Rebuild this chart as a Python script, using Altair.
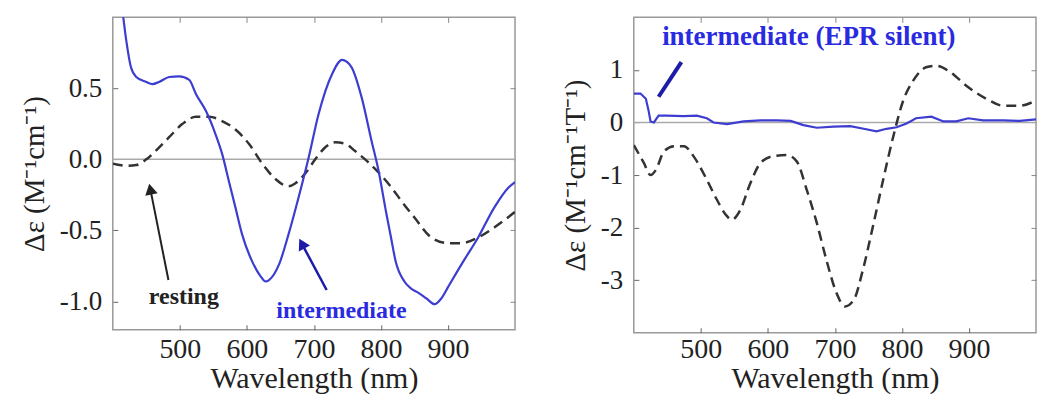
import altair as alt
import pandas as pd

# ---------------- Left panel data ----------------
L_int_wl = [400, 408, 415, 420, 427, 435, 450, 459, 469, 484, 499, 514, 524, 539, 553, 563, 573,
            583, 593, 608, 620, 628, 633, 648, 662, 677, 692, 707, 727, 742, 756, 771, 786, 796,
            808, 815, 822, 835, 845, 856, 868, 880, 890, 900, 924, 945, 969, 990, 1000]
L_int_v = [1.5, 1.2, 1.02, 0.84, 0.65, 0.58, 0.545, 0.53, 0.545, 0.58, 0.585, 0.56, 0.46, 0.34,
           0.18, 0.04, -0.15, -0.34, -0.53, -0.72, -0.82, -0.86, -0.85, -0.74, -0.53, -0.27, 0.01,
           0.32, 0.6, 0.7, 0.65, 0.44, 0.13, -0.07, -0.38, -0.55, -0.72, -0.86, -0.91, -0.94, -0.98,
           -1.02, -0.98, -0.9, -0.71, -0.55, -0.34, -0.2, -0.16]

L_rest_wl = [400, 410, 420, 435, 450, 464, 484, 504, 524, 544, 563, 583, 603, 623, 643, 662, 672,
             687, 702, 717, 732, 747, 761, 781, 796, 816, 830, 850, 875, 900, 920, 945, 969, 1000]
L_rest_v = [-0.03, -0.04, -0.045, -0.04, 0.0, 0.06, 0.156, 0.25, 0.30, 0.30, 0.27, 0.21, 0.11,
            -0.03, -0.14, -0.19, -0.17, -0.10, 0.0, 0.085, 0.12, 0.11, 0.06, -0.02, -0.09, -0.2,
            -0.29, -0.41, -0.55, -0.59, -0.59, -0.55, -0.48, -0.37]

# ---------------- Right panel data ----------------
R_rest_wl = [400, 415, 425, 433, 445, 460, 475, 489, 509, 524, 537, 546, 559, 574, 589, 608, 628,
             643, 658, 673, 687, 702, 715, 728, 742, 757, 772, 787, 802, 817, 836, 851, 872, 896,
             926, 951, 976, 1000]
R_rest_v = [-0.43, -0.77, -1.0, -0.9, -0.55, -0.45, -0.45, -0.64, -1.09, -1.47, -1.75, -1.85,
            -1.66, -1.15, -0.77, -0.64, -0.62, -0.74, -1.28, -1.91, -2.6, -3.23, -3.5, -3.38,
            -2.79, -1.96, -1.09, -0.27, 0.42, 0.8, 1.05, 1.08, 0.96, 0.7, 0.45, 0.32, 0.32, 0.42]

R_int_wl = [400, 410, 418, 422, 425, 430, 437, 449, 474, 494, 509, 519, 539, 564, 589, 613, 634,
            653, 673, 698, 723, 743, 762, 777, 792, 807, 821, 844, 862, 881, 899, 921, 951, 976, 1000]
R_int_v = [0.55, 0.55, 0.45, 0.23, 0.02, 0.0, 0.13, 0.13, 0.12, 0.13, 0.08, 0.0, -0.03, 0.02,
           0.04, 0.04, 0.03, -0.05, -0.1, -0.08, -0.07, -0.12, -0.17, -0.12, -0.09, -0.02, 0.08,
           0.11, 0.02, 0.02, 0.08, 0.04, 0.04, 0.03, 0.06]

x_ticks = [500, 600, 700, 800, 900]
L_y_ticks = [-1.0, -0.5, 0.0, 0.5]
R_y_ticks = [-3, -2, -1, 0, 1]

# annotations (data coordinates)
L_rest_arrow_wl = [483, 456]
L_rest_arrow_v = [-0.85, -0.21]
L_int_arrow_wl = [719, 682]
L_int_arrow_v = [-0.92, -0.594]
R_int_mark_wl = [437, 471]
R_int_mark_v = [0.49, 1.15]

FONT = "Liberation Serif"
BLUE = "#3d3dd0"
TXT_BLUE = "#2a2ae0"
DARK_BLUE = "#1c1ca8"
DASH = "#333333"


def df(xs, ys):
    return pd.DataFrame({"wl": xs, "v": ys})


def minus_fix(fmt):
    return "replace(format(datum.value, '%s'), '\u2212', '-')" % fmt


def panel(int_wl, int_v, rest_wl, rest_v, ydom, yticks, yfmt, ytitle, w, h, xlp, xtp,
          int_interp, extra):
    xs = alt.Scale(domain=[400, 1000], nice=False, zero=False)
    ys = alt.Scale(domain=ydom, nice=False, zero=False)
    ax_bottom = alt.Axis(orient="bottom", values=x_ticks, title="Wavelength (nm)", offset=-5,
                         tickSize=5, domain=False, labelPadding=xlp, titlePadding=xtp,
                         labelFont=FONT, titleFont=FONT,
                         labelFontSize=28, titleFontSize=30, tickColor="#666")
    ax_left = alt.Axis(orient="left", values=yticks, title=ytitle, offset=-5, tickSize=5,
                       domain=False, labelPadding=11, titlePadding=10, labelFontSize=27,
                       labelFont=FONT, titleFont=FONT,
                       titleFontSize=29, labelExpr=minus_fix(yfmt), tickColor="#666")
    ax_top = alt.Axis(orient="top", values=x_ticks, title=None, offset=-5, tickSize=5,
                      domain=False, labels=False, tickColor="#888")
    ax_right = alt.Axis(orient="right", values=yticks, title=None, offset=-5, tickSize=5,
                        domain=False, labels=False, tickColor="#888")

    zero = alt.Chart(pd.DataFrame({"v": [0.0]})).mark_rule(color="#aaaaaa", strokeWidth=1.5).encode(
        y=alt.Y("v:Q", scale=ys, axis=None))
    rest = alt.Chart(df(rest_wl, rest_v)).mark_line(
        color=DASH, strokeWidth=2.5, strokeDash=[10, 6], clip=True, interpolate="monotone").encode(
        x=alt.X("wl:Q", scale=xs, axis=ax_top),
        y=alt.Y("v:Q", scale=ys, axis=ax_right))
    inter = alt.Chart(df(int_wl, int_v)).mark_line(
        color=BLUE, strokeWidth=2.2, clip=True, interpolate=int_interp).encode(
        x=alt.X("wl:Q", scale=xs, axis=ax_bottom),
        y=alt.Y("v:Q", scale=ys, axis=ax_left))
    layers = [zero, rest, inter]
    for e in extra:
        layers.append(e(xs, ys))
    return alt.layer(*layers).properties(width=w, height=h)


def text_layer(label, wl, v, color, size):
    def f(xs, ys):
        return alt.Chart(pd.DataFrame({"wl": [wl], "v": [v], "t": [label]})).mark_text(
            font=FONT, fontSize=size, fontWeight="bold", color=color).encode(
            x=alt.X("wl:Q", scale=xs, axis=None), y=alt.Y("v:Q", scale=ys, axis=None), text="t:N")
    return f


def seg_layer(wls, vs, color, width):
    def f(xs, ys):
        return alt.Chart(pd.DataFrame({"wl": wls, "v": vs, "o": [0, 1]})).mark_line(
            color=color, strokeWidth=width).encode(
            x=alt.X("wl:Q", scale=xs, axis=None), y=alt.Y("v:Q", scale=ys, axis=None),
            order="o:O")
    return f


def head_layer(wl, v, color, angle):
    def f(xs, ys):
        return alt.Chart(pd.DataFrame({"wl": [wl], "v": [v]})).mark_point(
            shape="triangle-up", filled=True, size=160, color=color, opacity=1, angle=angle).encode(
            x=alt.X("wl:Q", scale=xs, axis=None), y=alt.Y("v:Q", scale=ys, axis=None))
    return f


left = panel(L_int_wl, L_int_v, L_rest_wl, L_rest_v, [-1.2, 1.0], L_y_ticks, ".1f",
             "\u0394\u03b5 (M\u207b\u00b9cm\u207b\u00b9)", 403, 313, 6, 0, "monotone",
             [seg_layer(L_rest_arrow_wl, L_rest_arrow_v, "#222222", 2),
              head_layer(L_rest_arrow_wl[1], L_rest_arrow_v[1], "#222222", 348),
              seg_layer(L_int_arrow_wl, L_int_arrow_v, DARK_BLUE, 2.5),
              head_layer(L_int_arrow_wl[1], L_int_arrow_v[1], DARK_BLUE, 332),
              text_layer("resting", 506, -0.97, "#222222", 24),
              text_layer("intermediate", 741, -1.07, TXT_BLUE, 24)])

right = panel(R_int_wl, R_int_v, R_rest_wl, R_rest_v, [-4, 2], R_y_ticks, "d",
              "\u0394\u03b5 (M\u207b\u00b9cm\u207b\u00b9T\u207b\u00b9)", 403, 316, 3, 0, "linear",
              [seg_layer(R_int_mark_wl, R_int_mark_v, DARK_BLUE, 4),
               text_layer("intermediate (EPR silent)", 661, 1.62, TXT_BLUE, 27)])

chart = alt.hconcat(left, right, spacing=43).properties(
    padding={"left": 11, "top": 7, "right": 4, "bottom": 0}
).configure(font=FONT).configure_view(stroke="#999999", strokeWidth=1.5).configure_axis(
    labelFont=FONT, titleFont=FONT, labelColor="#222222", titleColor="#222222",
    titleFontWeight="normal", grid=False)

chart.save("out.html", embed_options={"renderer": "svg", "actions": False})
